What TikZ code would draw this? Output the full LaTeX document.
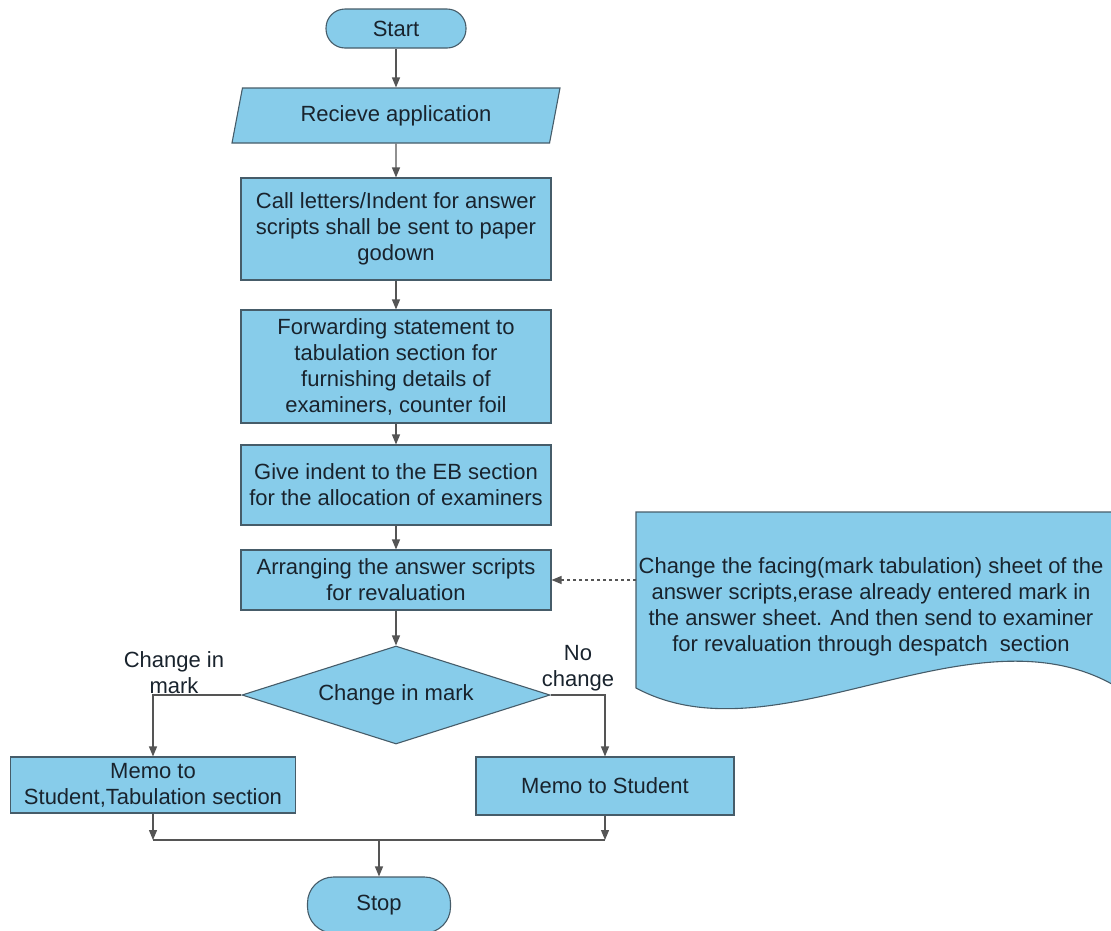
\documentclass[tikz,border=0pt]{standalone}
\usepackage{fontspec}
\setmainfont{Liberation Sans}
\usetikzlibrary{shapes.geometric,arrows.meta}
\definecolor{boxfill}{RGB}{135,204,234}
\definecolor{boxline}{RGB}{70,92,105}
\definecolor{flowline}{RGB}{85,85,85}
\definecolor{ink}{RGB}{25,35,45}

\begin{document}
\begin{tikzpicture}[x=1pt,y=-1pt,
  every node/.style={font=\fontsize{22}{26}\selectfont, text=ink},
  proc/.style={draw=boxline, fill=boxfill, line width=1.1pt, minimum width=310pt,
    inner sep=0pt, align=center},
  term/.style={draw=boxline, fill=boxfill, line width=1.1pt, inner sep=0pt},
  io/.style={trapezium, trapezium left angle=63, trapezium right angle=117,
    trapezium stretches body, draw=boxline, fill=boxfill, line width=1.1pt,
    minimum width=328pt, minimum height=55pt, inner sep=0pt},
  decision/.style={diamond, aspect=3.1, draw=boxline, fill=boxfill, line width=1.1pt,
    minimum width=308pt, minimum height=98pt, inner sep=0pt},
  lbl/.style={align=center, inner sep=0pt},
  flow/.style={draw=flowline, line width=1.2pt, -{Triangle[length=10pt,width=8pt]}},
  plain/.style={draw=flowline, line width=1.2pt},
  hint/.style={draw=flowline, line width=1.2pt, dash pattern=on 3pt off 3pt,
    -{Triangle[length=10pt,width=8pt]}}]

\useasboundingbox (0,0) rectangle (1111,930);

% main column
\node[term, minimum width=140pt, minimum height=39pt, rounded corners=19pt] (start) at (396,28.5) {Start};
\node[io] (recv) at (396,115.5) {Recieve application};
\node[proc, minimum height=102pt] (call) at (396,229)
  {Call letters/Indent for answer\\scripts shall be sent to paper\\godown};
\node[proc, minimum height=113pt] (fwd) at (396,366.5)
  {Forwarding statement to\\tabulation section for\\furnishing details of\\examiners, counter foil};
\node[proc, minimum height=80pt] (give) at (396,485)
  {Give indent to the EB section\\for the allocation of examiners};
\node[proc, minimum height=60pt] (arr) at (396,580)
  {Arranging the answer scripts\\for revaluation};
\node[decision] (chg) at (396,695) {Change in mark};

% branch labels
\node[lbl] (lyes) at (174,673) {Change in\\mark};
\node[lbl] (lno) at (578,668) {No\\change};

% outcomes
\node[proc, minimum width=285pt, minimum height=56pt] (memoA) at (153,785)
  {Memo to\\Student,Tabulation section};
\node[proc, minimum width=258pt, minimum height=58pt] (memoB) at (605,786)
  {Memo to Student};
\node[term, minimum width=143pt, minimum height=56pt, rounded corners=26pt] (stop) at (379,905) {Stop};

% note sheet on the right (document shape)
\path[draw=boxline, fill=boxfill, line width=1.1pt]
  (1125,512) -- (636,512) -- (636,688)
  .. controls (780,765) and (980,595) .. (1125,692) -- cycle;
\node[lbl] (note) at (871,607)
  {Change the facing(mark tabulation) sheet of the\\answer scripts,erase already entered mark in\\the answer sheet. And then send to examiner\\for revaluation through despatch\ \ section};
\coordinate (noteedge) at (636,580);

% connectors
\draw[flow] (start) -- (recv);
\draw[flow] (recv) -- (call);
\draw[flow] (call) -- (fwd);
\draw[flow] (fwd) -- (give);
\draw[flow] (give) -- (arr);
\draw[flow] (arr) -- (chg);
\draw[hint] (noteedge) -- (arr.east |- noteedge);
\draw[flow] (chg.west) -| (memoA.north);
\draw[flow] (chg.east) -| (memoB.north);

\coordinate (mline) at (0,840);
\coordinate (mergeL) at (memoA.south |- mline);
\coordinate (mergeR) at (memoB.south |- mline);
\coordinate (mergeM) at (stop.north |- mline);
\draw[flow] (memoA.south) -- (mergeL);
\draw[flow] (memoB.south) -- (mergeR);
\draw[plain] (mergeL) -- (mergeR);
\draw[flow] (mergeM) -- (stop.north);

\end{tikzpicture}
\end{document}
